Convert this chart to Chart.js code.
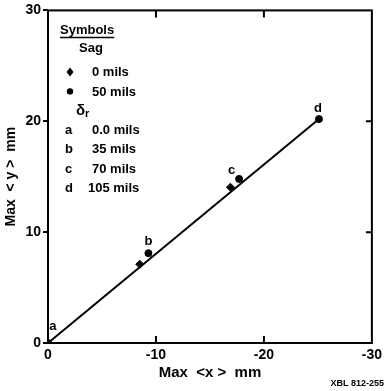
<!DOCTYPE html>
<html>
<head>
<meta charset="utf-8">
<script src="https://cdn.jsdelivr.net/npm/chart.js@4.4.0/dist/chart.umd.min.js"></script>
<style>
  html, body { margin: 0; padding: 0; background: #fff; }
  #wrap { width: 386px; height: 391px; position: relative; }
</style>
</head>
<body>
<div id="wrap"><canvas id="myChart"></canvas></div>
<script>
// values (Max <x>, Max <y> in mm)
const sag0X = [0, -8.5, -16.9];
const sag0Y = [0, 7.1, 14.05];
const sag50X = [0, -9.3, -17.7, -25.1];
const sag50Y = [0, 8.1, 14.8, 20.2];
const fitX = [0, -25.1];
const fitY = [0, 20.2];

const pointLabels = ['a', 'b', 'c', 'd'];
const pointLabelX = [-0.45, -9.3, -17.0, -25.0];
const pointLabelY = [1.5, 9.2, 15.6, 21.2];

const xTicks = [0, -10, -20, -30];
const yTicks = [0, 10, 20, 30];

const legendRows = ['0.0 mils', '35 mils', '70 mils', '105 mils'];

const FONT = '"Liberation Sans", Arial, sans-serif';

function pts(xs, ys) {
    return xs.map((x, i) => ({ x: x, y: ys[i] }));
}

const paper = {
    id: 'paper',
    afterDatasetsDraw(chart) {
        const ctx = chart.ctx;
        const a = chart.chartArea;
        const xs = chart.scales.x;
        const ys = chart.scales.y;
        ctx.save();
        ctx.strokeStyle = '#000';
        ctx.fillStyle = '#000';
        ctx.lineWidth = 2;
        ctx.strokeRect(a.left, a.top, a.right - a.left, a.bottom - a.top);

        // inward ticks on bottom, top and right
        ctx.beginPath();
        xTicks.slice(1, -1).forEach(v => {
            const px = xs.getPixelForValue(v);
            ctx.moveTo(px, a.bottom); ctx.lineTo(px, a.bottom - 7);
            ctx.moveTo(px, a.top); ctx.lineTo(px, a.top + 7);
        });
        yTicks.slice(1, -1).forEach(v => {
            const py = ys.getPixelForValue(v);
            ctx.moveTo(a.right, py); ctx.lineTo(a.right - 6, py);
        });
        ctx.stroke();

        // letters next to the points
        ctx.font = 'bold 13px ' + FONT;
        ctx.textAlign = 'center';
        ctx.textBaseline = 'middle';
        pointLabels.forEach((t, i) => {
            ctx.fillText(t, xs.getPixelForValue(pointLabelX[i]), ys.getPixelForValue(pointLabelY[i]));
        });

        // key in the upper left corner
        const L = a.left, T = a.top;
        ctx.textAlign = 'left';
        ctx.font = 'bold 13px ' + FONT;
        ctx.fillText('Symbols', L + 12, T + 20);
        const w = ctx.measureText('Symbols').width;
        ctx.lineWidth = 1.5;
        ctx.beginPath();
        ctx.moveTo(L + 12, T + 27); ctx.lineTo(L + 12 + w, T + 27);
        ctx.stroke();
        ctx.fillText('Sag', L + 31, T + 38);

        ctx.beginPath();
        ctx.moveTo(L + 22, T + 57); ctx.lineTo(L + 25.5, T + 61.5);
        ctx.lineTo(L + 22, T + 66); ctx.lineTo(L + 18.5, T + 61.5);
        ctx.closePath(); ctx.fill();
        ctx.fillText('0 mils', L + 44, T + 62);

        ctx.beginPath();
        ctx.arc(L + 22, T + 81, 3.2, 0, Math.PI * 2); ctx.fill();
        ctx.fillText('50 mils', L + 44, T + 82);

        ctx.font = 'bold 15px ' + FONT;
        ctx.fillText('\u03b4', L + 28, T + 100);
        ctx.font = 'bold 11px ' + FONT;
        ctx.fillText('r', L + 37, T + 104);

        ctx.font = 'bold 13px ' + FONT;
        legendRows.forEach((t, i) => {
            const y = T + 120 + i * 19.5;
            ctx.fillText(pointLabels[i], L + 17, y);
            ctx.fillText(t, i == 3 ? L + 40 : L + 44, y);
        });

        ctx.font = 'bold 9px ' + FONT;
        ctx.textAlign = 'right';
        ctx.fillText('XBL 812-255', chart.width - 2, chart.height - 7);
        ctx.restore();
    }
};

const ctx = document.getElementById('myChart');

new Chart(ctx, {
    type: 'scatter',
    data: {
        datasets: [{
            type: 'line',
            label: 'fit',
            data: pts(fitX, fitY),
            borderColor: '#000',
            borderWidth: 2,
            pointRadius: 0,
            fill: false
        }, {
            label: 'Sag 0 mils',
            data: pts(sag0X, sag0Y),
            pointStyle: 'rectRot',
            pointRadius: 4,
            backgroundColor: '#000',
            borderColor: '#000'
        }, {
            label: 'Sag 50 mils',
            data: pts(sag50X, sag50Y),
            pointStyle: 'circle',
            pointRadius: 3.5,
            backgroundColor: '#000',
            borderColor: '#000'
        }]
    },
    options: {
        responsive: true,
        maintainAspectRatio: false,
        animation: false,
        layout: { padding: { top: 9, right: 3, left: 0, bottom: 0 } },
        plugins: {
            legend: { display: false },
            tooltip: { enabled: false }
        },
        scales: {
            x: {
                type: 'linear',
                reverse: true,
                min: -30,
                max: 0,
                afterFit: s => { s.height = 48; },
                ticks: {
                    stepSize: 10,
                    color: '#000',
                    padding: 4,
                    maxRotation: 0,
                    font: { family: FONT, size: 14, weight: 'bold' }
                },
                grid: { display: false, drawTicks: false },
                border: { display: false },
                title: {
                    display: true,
                    text: 'Max  <x >  mm',
                    color: '#000',
                    padding: { top: 0, bottom: 9 },
                    font: { family: FONT, size: 15, weight: 'bold' }
                }
            },
            y: {
                min: 0,
                max: 30,
                afterFit: s => { s.width = 48; },
                ticks: {
                    stepSize: 10,
                    color: '#000',
                    padding: 2,
                    font: { family: FONT, size: 14, weight: 'bold' }
                },
                grid: { drawOnChartArea: false, tickLength: 5, color: '#000', lineWidth: 2 },
                border: { display: false },
                title: {
                    display: true,
                    text: 'Max  < y >  mm',
                    color: '#000',
                    padding: { top: 3, bottom: 0 },
                    font: { family: FONT, size: 14, weight: 'bold' }
                }
            }
        }
    },
    plugins: [paper]
});
</script>
</body>
</html>
